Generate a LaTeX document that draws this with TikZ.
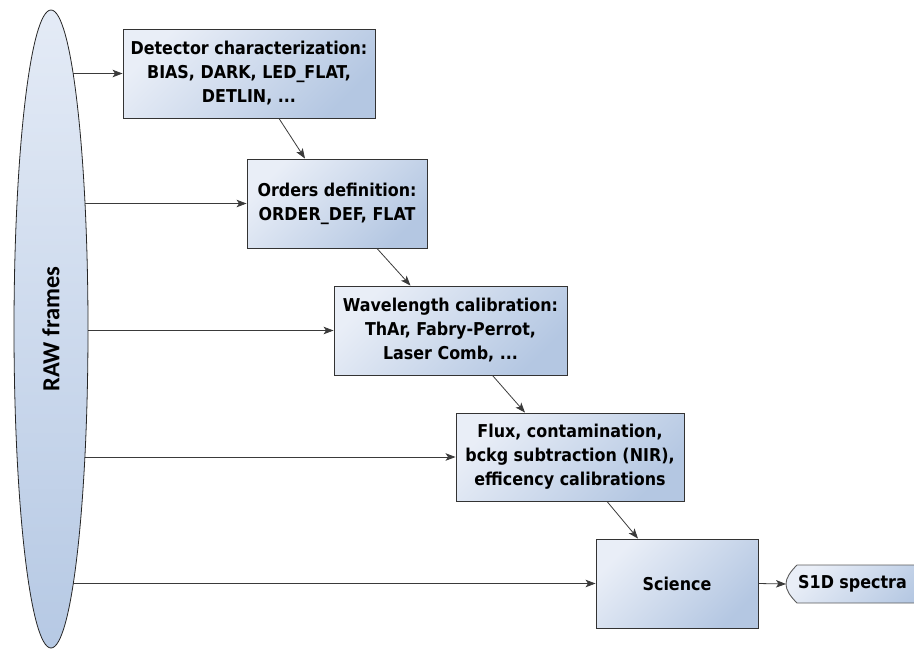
\documentclass[tikz,border=0pt]{standalone}
\usepackage{fontspec}
\newfontfamily\boxfont{DejaVu Sans Condensed}
\newfontfamily\rawfont{Carlito}
\usetikzlibrary{arrows.meta,shapes.geometric}
\pgfdeclarelayer{bg}
\pgfsetlayers{bg,main}
\definecolor{boxlight}{HTML}{E9EEF7}
\definecolor{boxdark}{HTML}{B4C7E2}
\definecolor{elltop}{HTML}{E4EBF6}
\definecolor{ellbot}{HTML}{B6C9E4}
\definecolor{edge}{HTML}{333333}
\definecolor{wire}{HTML}{3A3A3A}
\tikzset{
  stepbox/.style={draw=edge, line width=0.9pt, top color=boxlight, bottom color=boxdark,
    shading angle=45, inner sep=0pt, align=center,
    font=\boxfont\bfseries\fontsize{17.7}{24}\selectfont},
  flow/.style={draw=wire, line width=0.8pt, -{Stealth[length=10pt,width=7.5pt,inset=2.5pt]}},
}
\begin{document}
\begin{tikzpicture}[x=1pt,y=-1pt]
\useasboundingbox (0,0) rectangle (914,649);
% RAW frames ellipse
\node[ellipse, draw=black!85, line width=0.8pt, top color=elltop, bottom color=ellbot,
      minimum width=74pt, minimum height=638pt, inner sep=0pt] (raw) at (51,329) {};
\node[rotate=90, font=\rawfont\bfseries\fontsize{24.5}{28}\selectfont] (rawtxt) at (raw.center) {RAW frames};
% process boxes
\node[stepbox, minimum width=252pt, minimum height=89pt] (b1) at (249,73.5)
  {Detector characterization:\\BIAS, DARK, LED\_FLAT,\\DETLIN, ...};
\node[stepbox, minimum width=180pt, minimum height=89pt] (b2) at (337,203.5)
  {Orders definition:\\ORDER\_DEF, FLAT};
\node[stepbox, minimum width=233pt, minimum height=89pt] (b3) at (450.5,330.5)
  {Wavelength calibration:\\ThAr, Fabry-Perrot,\\Laser Comb, ...};
\node[stepbox, minimum width=228pt, minimum height=88pt] (b4) at (570,457)
  {Flux, contamination,\\bckg subtraction (NIR),\\efficency calibrations};
\node[stepbox, minimum width=162pt, minimum height=89pt] (b5) at (677,583.5)
  {Science};
% output
\coordinate (s1dtip) at (786,584);
\path[draw=edge!80, line width=0.9pt, top color=boxlight, bottom color=boxdark, shading angle=45]
  (797,565) -- (940,565) -- (940,603) -- (797,603)
  .. controls (790,596) and (786,590) .. (s1dtip)
  .. controls (786,578) and (790,572) .. (797,565);
\node[anchor=west, inner sep=0pt, font=\boxfont\bfseries\fontsize{17.7}{24}\selectfont] (s1d) at (798,584) {S1D spectra};
% connectors from RAW frames (drawn under the ellipse)
\begin{pgfonlayer}{bg}
  \foreach \b in {b1,b2,b3,b4,b5}
    \draw[flow] (raw.center |- \b.west) -- (\b.west);
\end{pgfonlayer}
% chain
\draw[flow] ([xshift=30pt]b1.south) -- ([xshift=-32pt]b2.north);
\draw[flow] ([xshift=40pt]b2.south) -- ([xshift=-40pt]b3.north);
\draw[flow] ([xshift=42pt]b3.south) -- ([xshift=-45pt]b4.north);
\draw[flow] ([xshift=37pt]b4.south) -- ([xshift=-39pt]b5.north);
\draw[flow] (b5.east) -- (s1dtip);
\end{tikzpicture}
\end{document}
